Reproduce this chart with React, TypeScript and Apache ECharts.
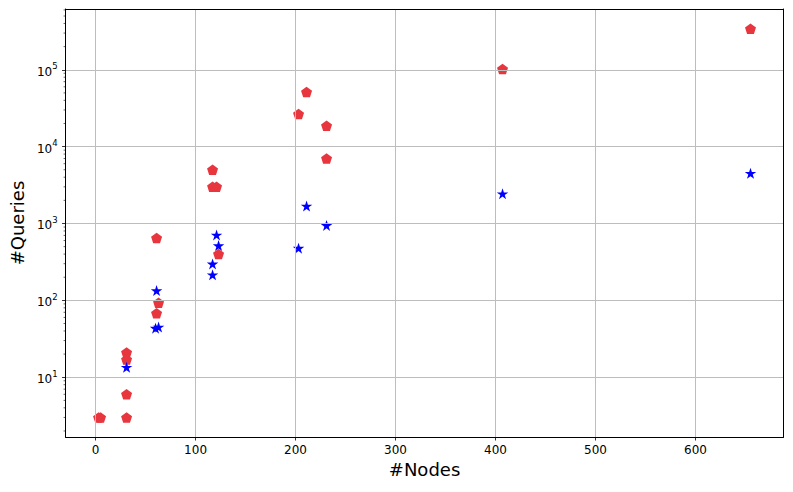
import React, { useEffect, useRef } from "react";
import * as echarts from "echarts";

// Red pentagons series: [#Nodes, #Queries]
const redPoints: [number, number][] = [
  [3, 3], [5, 3], [31, 3], [31, 6], [31, 17], [31, 21],
  [61, 650], [63, 93], [61, 68],
  [117, 5000], [117, 3000], [121, 3000], [123, 400],
  [203, 26500], [211, 51500], [231, 18700], [231, 7000],
  [407, 102000], [655, 342000],
];

// Blue stars series: [#Nodes, #Queries]
const bluePoints: [number, number][] = [
  [31, 13.5], [61, 134], [60, 43.5], [63, 45],
  [117, 298], [117, 215], [121, 710], [123, 516],
  [203, 478], [211, 1690], [231, 945],
  [407, 2440], [655, 4500],
];

// Axis ranges
const X_MIN = -30;
const X_MAX = 688;
const Y_MIN = 1.67;
const Y_MAX = 617000;

// Log-axis minor tick values (2..9 per decade)
const minorTickValues: number[] = [
  2, 3, 4, 5, 6, 7, 8, 9,
  20, 30, 40, 50, 60, 70, 80, 90,
  200, 300, 400, 500, 600, 700, 800, 900,
  2000, 3000, 4000, 5000, 6000, 7000, 8000, 9000,
  20000, 30000, 40000, 50000, 60000, 70000, 80000, 90000,
  200000, 300000, 400000, 500000, 600000,
];

const PENTAGON =
  "path://M0,-1 L0.951,-0.309 L0.588,0.809 L-0.588,0.809 L-0.951,-0.309 Z";
const STAR =
  "path://M0,-1 L0.2245,-0.309 L0.951,-0.309 L0.3633,0.118 L0.588,0.809 L0,0.382 L-0.588,0.809 L-0.3633,0.118 L-0.951,-0.309 L-0.2245,-0.309 Z";

const FONT = "DejaVu Sans";

export default function App() {
  const ref = useRef<HTMLDivElement>(null);
  useEffect(() => {
    if (!ref.current) return;
    const chart = echarts.init(ref.current, undefined, { renderer: "svg" });
    const frameAxis = {
      axisLine: { show: true, onZero: false, lineStyle: { color: "#000", width: 1 } },
      axisTick: { show: false },
      axisLabel: { show: false },
      splitLine: { show: false },
      z: 10,
    };
    chart.setOption({
      animation: false,
      backgroundColor: "#ffffff",
      grid: {
        left: 65,
        right: 9.5,
        top: 9,
        bottom: 55,
        show: false,
      },
      xAxis: [
        {
          type: "value",
          min: X_MIN,
          max: X_MAX,
          splitNumber: 7,
          name: "#Nodes",
          nameLocation: "middle",
          nameGap: 22,
          nameTextStyle: { fontFamily: FONT, fontSize: 18, color: "#000" },
          axisLine: { show: true, onZero: false, lineStyle: { color: "#000", width: 1 } },
          axisTick: { show: true, length: 3.5, lineStyle: { color: "#000", width: 0.8 } },
          axisLabel: {
            fontFamily: FONT,
            fontSize: 12,
            color: "#000",
            margin: 7,
            showMinLabel: false,
            showMaxLabel: false,
          },
          splitLine: { show: true, lineStyle: { color: "#bdbdbd", width: 1 } },
          z: 10,
        },
        { type: "value", min: X_MIN, max: X_MAX, position: "top", ...frameAxis },
      ],
      yAxis: [
        {
          type: "log",
          logBase: 10,
          min: Y_MIN,
          max: Y_MAX,
          name: "#Queries",
          nameLocation: "middle",
          nameGap: 37,
          nameTextStyle: { fontFamily: FONT, fontSize: 18, color: "#000" },
          axisLine: { show: true, onZero: false, lineStyle: { color: "#000", width: 1 } },
          axisTick: { show: true, length: 3.5, lineStyle: { color: "#000", width: 0.8 } },
          axisLabel: {
            fontFamily: FONT,
            color: "#000",
            margin: 8,
            showMinLabel: false,
            showMaxLabel: false,
            formatter: (v: number) => {
              const e = Math.round(Math.log10(v));
              return "{b|10}{s|" + e + "}";
            },
            rich: {
              b: { fontFamily: FONT, fontSize: 12, color: "#000", verticalAlign: "bottom", lineHeight: 16 },
              s: { fontFamily: FONT, fontSize: 8.5, color: "#000", verticalAlign: "top", lineHeight: 16 },
            },
          },
          splitLine: { show: true, lineStyle: { color: "#bdbdbd", width: 1 } },
          z: 10,
        },
        { type: "log", logBase: 10, min: Y_MIN, max: Y_MAX, position: "right", ...frameAxis },
      ],
      series: [
        {
          type: "custom",
          silent: true,
          clip: false,
          data: minorTickValues.map((v) => [X_MIN, v]),
          renderItem: (_params: any, api: any) => {
            const p = api.coord([api.value(0), api.value(1)]);
            return {
              type: "line",
              shape: { x1: p[0] - 2, y1: p[1], x2: p[0], y2: p[1] },
              style: { stroke: "#000", lineWidth: 0.6 },
            };
          },
          z: 1,
        },
        {
          name: "pentagon",
          type: "scatter",
          data: redPoints,
          symbol: PENTAGON,
          symbolSize: [11, 10.5],
          itemStyle: { color: "#e8363f", opacity: 1 },
          z: 3,
        },
        {
          name: "star",
          type: "scatter",
          data: bluePoints,
          symbol: STAR,
          symbolSize: [11.5, 11],
          itemStyle: { color: "#0000ff", opacity: 1 },
          z: 4,
        },
      ],
    });
    return () => chart.dispose();
  }, []);
  return <div ref={ref} style={{ width: 793, height: 492, position: "absolute", left: 0, top: 0 }} />;
}
